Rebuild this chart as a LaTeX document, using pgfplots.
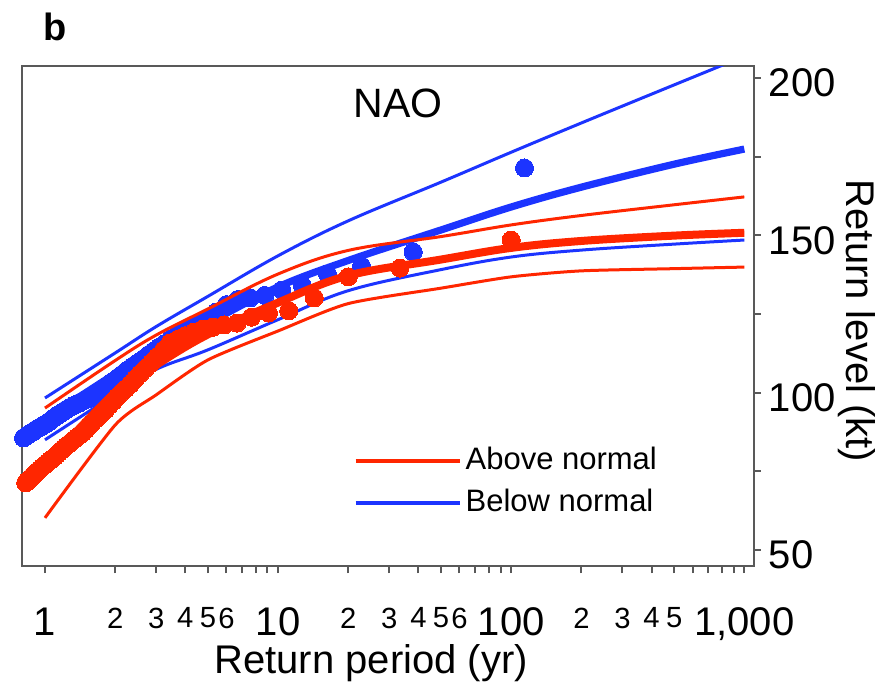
\documentclass[border=0pt]{standalone}
\usepackage{fontspec}
\setmainfont{Liberation Sans}
\usepackage{pgfplots}
\usepackage{pgfplotstable}
\pgfplotsset{compat=1.18}

\definecolor{anred}{RGB}{255,38,0}
\definecolor{bnblue}{RGB}{28,52,255}

% fitted return levels and bounds
\pgfplotstableread{
T     up     fit    lo
1     95.1   77.0   60.2
2     110.2  100.0  89.7
3     118.3  108.8  99.3
5     126.6  118.5  110.4
10    137.7  128.6  119.6
20    145.2  137.2  128.3
50    149.6  142.3  133.2
100   153.3  146.0  136.8
200   156.3  148.2  138.7
500   159.7  149.9  139.4
1000  162.2  150.8  139.9
}\redfit

\pgfplotstableread{
T     up     fit    lo
1     98.3   91.6   85.0
2     112.6  106.0  99.4
3     121.0  114.2  107.4
5     130.6  122.1  113.6
10    143.5  133.6  123.2
20    154.6  142.0  132.4
50    166.9  151.7  139.1
100   176.4  159.0  143.1
200   185.7  165.3  145.3
500   197.8  172.6  147.2
1000  206.9  177.4  148.5
}\bluefit

% empirical points, above normal
\pgfplotstableread{
T      v
100    148.5
33.33  139.6
20     136.8
14.29  130.1
11.11  126.0
9.091  125.3
7.692  124.0
6.667  122.1
5.882  121.5
5.263  120.8
4.762  120.2
4.348  119.2
4.0    118.1
3.704  116.9
3.448  115.8
3.226  113.5
3.030  111.3
2.857  109.4
2.703  107.7
2.564  106.0
2.439  104.3
2.326  102.7
2.222  101.3
2.128  100.0
2.041  98.6
1.961  97.2
1.887  95.9
1.818  94.5
1.754  93.5
1.695  92.4
1.639  91.4
1.587  90.3
1.538  89.3
1.493  88.2
1.449  87.2
1.408  86.5
1.370  85.8
1.333  85.1
1.299  84.4
1.266  83.7
1.235  83.1
1.205  82.4
1.176  81.7
1.149  81.0
1.124  80.3
1.099  79.6
1.075  79.0
1.053  78.5
1.031  77.9
1.010  77.4
0.990  76.8
0.971  76.3
0.952  75.7
0.935  75.2
0.917  74.6
0.901  74.1
0.885  73.5
0.870  72.9
0.855  72.4
0.840  71.8
0.826  71.3
}\reddots

% empirical points, below normal
\pgfplotstableread{
T      v
114    171.4
38     144.7
22.8   140.2
16.29  137.7
12.67  134.2
10.36  132.6
8.769  130.9
7.6    130.1
6.706  129.6
6.0    128.0
5.429  125.6
4.957  123.6
4.56   122.3
4.222  120.9
3.931  119.6
3.677  118.3
3.455  117.0
3.257  115.6
3.081  114.4
2.923  113.2
2.780  112.0
2.651  110.8
2.533  109.7
2.426  108.8
2.327  107.8
2.235  106.9
2.151  105.9
2.073  105.0
2.0    104.0
1.932  103.3
1.869  102.5
1.810  101.8
1.754  101.1
1.701  100.4
1.652  99.6
1.606  98.9
1.562  98.4
1.52   98.0
1.481  97.6
1.443  97.2
1.407  96.8
1.373  96.4
1.341  96.0
1.310  95.7
1.281  95.3
1.253  94.9
1.226  94.5
1.2    94.0
1.175  93.6
1.152  93.1
1.129  92.7
1.107  92.2
1.086  91.8
1.065  91.3
1.046  90.9
1.027  90.4
1.009  90.1
0.991  89.8
0.974  89.4
0.958  89.1
0.942  88.8
0.927  88.5
0.912  88.2
0.898  87.8
0.884  87.5
0.870  87.2
0.857  86.9
0.844  86.6
0.832  86.2
0.820  85.9
0.809  85.6
}\bluedots

\begin{document}
\begin{tikzpicture}
\useasboundingbox (-5.5pt,-30.75pt) rectangle (218pt,141.5pt);
\begin{axis}[
  scale only axis, width=183pt, height=125pt,
  xmode=log, xmin=0.797, xmax=1100, ymin=44.9, ymax=203.8,
  clip mode=individual,
  axis line style={black!65, line width=0.6pt},
  tick style={black!65, line width=0.5pt},
  tick align=outside, xtick pos=bottom, ytick pos=right, yticklabel pos=right,
  major tick length=1.75pt, minor tick length=1.75pt,
  xtick={1,10,100,1000}, xticklabels={1,10,100,{1,000}},
  minor xtick={2,3,4,5,6,7,8,9,20,30,40,50,60,70,80,90,200,300,400,500,600,700,800,900},
  extra x ticks={2,3,4,5,6,20,30,40,50,60,200,300,400,500},
  extra x tick labels={2,3,4,5,6,2,3,4,5,6,2,3,4,5},
  extra x tick style={xticklabel style={font=\fontsize{7.3}{8}\selectfont}},
  xticklabel style={font=\fontsize{10}{12}\selectfont, anchor=north, inner sep=0pt, yshift=-8.5pt},
  ytick={50,100,150,200}, minor ytick={75,125,175},
  yticklabel style={font=\fontsize{10}{12}\selectfont, anchor=west, inner sep=0pt, xshift=1.75pt, yshift=-1.25pt},
  /pgf/number format/assume math mode=true,
  xlabel={Return period (yr)},
  xlabel style={at={(axis description cs:0.477,-0.214)}, anchor=base, font=\fontsize{10}{12}\selectfont},
  ylabel={Return level (kt)},
  ylabel style={at={(axis description cs:1.1407,0.49)}, anchor=center, rotate=180, font=\fontsize{10}{12}\selectfont},
  legend style={draw=none, fill=none, at={(axis description cs:0.452,0.240)}, anchor=north west,
    font=\fontsize{7.75}{9}\selectfont, row sep=3.5pt, column sep=1pt, inner sep=0pt,
    nodes={inner sep=0pt}},
  legend cell align=left,
  legend image code/.code={\draw[#1] (0pt,0pt) -- (26pt,0pt);},
]
\addlegendimage{anred, line width=1pt}\addlegendentry{Above normal}
\addlegendimage{bnblue, line width=1pt}\addlegendentry{Below normal}

\addplot[bnblue, line width=0.75pt, smooth, tension=0.6] table[x=T, y=up] {\bluefit};
\addplot[bnblue, line width=0.75pt, smooth, tension=0.6] table[x=T, y=lo] {\bluefit};
\addplot[bnblue, line width=1.8pt, smooth, tension=0.6] table[x=T, y=fit] {\bluefit};
\addplot[only marks, color=bnblue, fill=bnblue, mark=*, mark size=2.25pt, mark options={draw=bnblue, fill=bnblue, line width=0pt}] table[x=T, y=v] {\bluedots};

\addplot[anred, line width=0.75pt, smooth, tension=0.6] table[x=T, y=up] {\redfit};
\addplot[anred, line width=0.75pt, smooth, tension=0.4] table[x=T, y=lo] {\redfit};
\addplot[anred, line width=2pt, smooth, tension=0.6] table[x=T, y=fit] {\redfit};
\addplot[only marks, color=anred, fill=anred, mark=*, mark size=2.25pt, mark options={draw=anred, fill=anred, line width=0pt}] table[x=T, y=v] {\reddots};

\node[font=\fontsize{10.25}{12}\selectfont] at (axis cs:32.7,192) {NAO};
\node[font=\bfseries\fontsize{9.5}{11}\selectfont] at (axis description cs:0.045,1.078) {b};
\end{axis}
\end{tikzpicture}
\end{document}
